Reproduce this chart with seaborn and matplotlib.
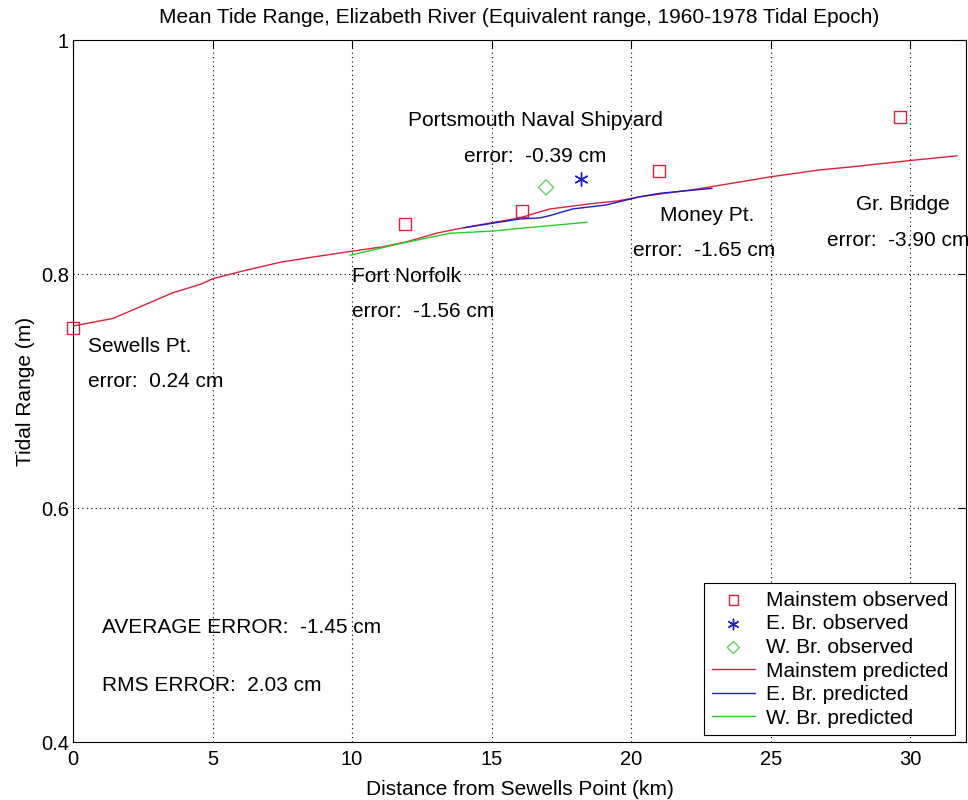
import matplotlib
matplotlib.use("Agg")
import matplotlib.pyplot as plt
import matplotlib.ticker as mticker
import seaborn as sns

# Observed mean tide range at stations (km from Sewells Point, m)
main_obs_km = [0.0, 11.9, 16.1, 21.0, 29.65]
main_obs_m = [0.754, 0.843, 0.854, 0.888, 0.934]
ebr_obs_km = [18.2]
ebr_obs_m = [0.881]
wbr_obs_km = [16.95]
wbr_obs_m = [0.874]

# Model predictions along each channel
main_pred_km = [0.0, 1.43, 3.58, 4.55, 5.02, 5.99, 7.42, 8.6, 10.0, 11.11, 11.97,
                13.05, 13.87, 14.95, 16.02, 16.74, 17.1, 18.53, 19.5, 20.32,
                22.47, 24.98, 26.77, 27.96, 30.0, 31.68]
main_pred_m = [0.7555, 0.762, 0.784, 0.791, 0.796, 0.802, 0.810, 0.8145, 0.8195,
               0.8233, 0.8276, 0.835, 0.839, 0.8436, 0.848, 0.8532, 0.8556, 0.860,
               0.8624, 0.866, 0.873, 0.883, 0.889, 0.8917, 0.897, 0.901]
ebr_pred_km = [14.0, 16.0, 16.74, 17.1, 17.9, 19.1, 20.3, 21.04, 22.9]
ebr_pred_m = [0.8395, 0.847, 0.848, 0.850, 0.8556, 0.859, 0.866, 0.869, 0.8732]
wbr_pred_km = [9.93, 11.72, 13.5, 15.05, 16.02, 18.42]
wbr_pred_m = [0.816, 0.826, 0.8348, 0.8367, 0.839, 0.8442]

# Station labels: (x, y, text)
label_x = [0.55, 0.55, 12.0, 14.0, 10.0, 10.0, 21.05, 20.05, 28.05, 27.0]
label_y = [0.738, 0.7085, 0.931, 0.900, 0.798, 0.768, 0.8496, 0.8197, 0.859, 0.829]
label_text = ["Sewells Pt.", "error:  0.24 cm",
              "Portsmouth Naval Shipyard", "error:  -0.39 cm",
              "Fort Norfolk", "error:  -1.56 cm",
              "Money Pt.", "error:  -1.65 cm",
              "Gr. Bridge", "error:  -3.90 cm"]
summary_text = ["AVERAGE ERROR:  -1.45 cm", "RMS ERROR:  2.03 cm"]
summary_y = [0.498, 0.448]

x_ticks = [0, 5, 10, 15, 20, 25, 30]
y_ticks = [0.4, 0.6, 0.8, 1.0]
y_tick_labels = ["0.4", "0.6", "0.8", "1"]

sns.set_style("white")
plt.rcParams["font.family"] = ["Liberation Sans", "DejaVu Sans"]
plt.rcParams["text.color"] = "black"
plt.rcParams["axes.labelcolor"] = "black"

RED = "#e01e3c"
BLUE = "#1c1cc8"
GREEN = "#22d022"
DIAMOND = "#66d466"

fig = plt.figure(figsize=(9.68, 8.0), dpi=100)
ax = fig.add_axes([0.0754, 0.0725, 0.9226, 0.8775])

sns.scatterplot(x=main_obs_km, y=main_obs_m, ax=ax, marker="s", s=75,
                facecolors="none", edgecolor=RED, linewidth=1.0,
                label="Mainstem observed", zorder=4, clip_on=False)
sns.scatterplot(x=ebr_obs_km, y=ebr_obs_m, ax=ax, marker=(6, 2, 0), s=90,
                color=BLUE, edgecolor=BLUE, linewidth=1.0,
                label="E. Br. observed", zorder=4)
sns.scatterplot(x=wbr_obs_km, y=wbr_obs_m, ax=ax, marker="D", s=60,
                facecolors="none", edgecolor=DIAMOND, linewidth=1.0,
                label="W. Br. observed", zorder=4)
sns.lineplot(x=main_pred_km, y=main_pred_m, ax=ax, color=RED, lw=1.0,
             sort=False, label="Mainstem predicted", zorder=3)
sns.lineplot(x=ebr_pred_km, y=ebr_pred_m, ax=ax, color=BLUE, lw=1.0,
             sort=False, label="E. Br. predicted", zorder=3)
sns.lineplot(x=wbr_pred_km, y=wbr_pred_m, ax=ax, color=GREEN, lw=1.0,
             sort=False, label="W. Br. predicted", zorder=3)

fs = 15
for x, y, t in zip(label_x, label_y, label_text):
    ax.text(x, y, t, fontsize=fs, ha="left", va="center", color="black", zorder=5)
for y, t in zip(summary_y, summary_text):
    ax.text(1.05, y, t, fontsize=fs, ha="left", va="center", color="black", zorder=5)

ax.set_xlim(0, 32)
ax.set_ylim(0.4, 1.0)
ax.xaxis.set_major_locator(mticker.FixedLocator(x_ticks))
ax.yaxis.set_major_locator(mticker.FixedLocator(y_ticks))
ax.set_yticklabels(y_tick_labels)
ax.grid(True, color="black", linestyle=(0, (1, 3)), linewidth=0.8)
ax.tick_params(direction="in", length=6, width=0.8, top=True, right=True,
               labelsize=14.5, colors="black")
ax.tick_params(axis="x", pad=6)
ax.tick_params(axis="y", pad=3)
for sp in ax.spines.values():
    sp.set_visible(True)
    sp.set_color("black")
    sp.set_linewidth(0.8)

ax.set_xlabel("Distance from Sewells Point (km)", fontsize=15, labelpad=8)
ax.set_ylabel("Tidal Range (m)", fontsize=15, labelpad=4)
ax.set_title("Mean Tide Range, Elizabeth River (Equivalent range, 1960-1978 Tidal Epoch)",
             fontsize=15, pad=12, color="black")

leg = ax.legend(loc="lower right", bbox_to_anchor=(0.988, 0.01), fontsize=15,
                frameon=True, fancybox=False, framealpha=1, edgecolor="black",
                borderpad=0.35, labelspacing=0.22, handlelength=2.1,
                handletextpad=0.5, borderaxespad=0, markerscale=0.8)
leg.get_frame().set_linewidth(0.8)
for t in leg.get_texts():
    t.set_color("black")

fig.savefig("out.png", dpi=100, facecolor="white")
